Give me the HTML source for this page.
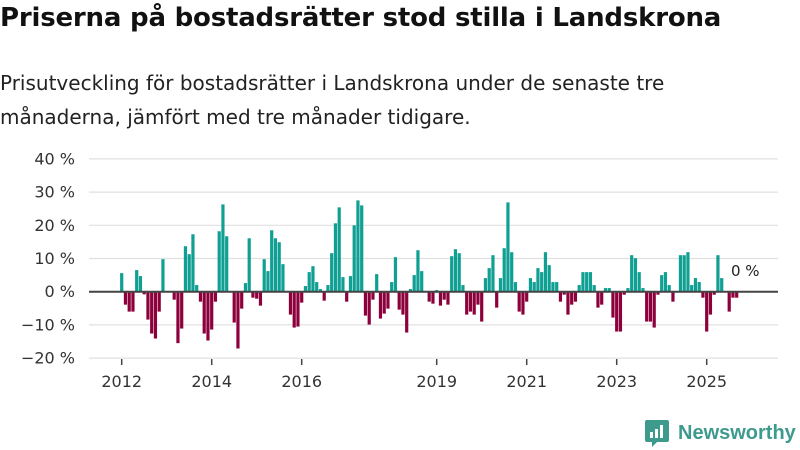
<!DOCTYPE html>
<html><head><meta charset="utf-8">
<style>
body{margin:0;width:800px;height:450px;background:#fff;font-family:"Liberation Sans","DejaVu Sans",sans-serif;overflow:hidden;position:relative}
#title{position:absolute;left:0;top:3px;font-size:26px;font-weight:bold;color:#111;font-family:"DejaVu Sans",sans-serif;letter-spacing:-0.2px}
#sub{position:absolute;left:0;top:66px;font-size:20px;line-height:34px;color:#222;font-family:"DejaVu Sans",sans-serif;width:790px}
svg{position:absolute;left:0;top:0}
</style></head><body>
<div id="title">Priserna på bostadsrätter stod stilla i Landskrona</div>
<div id="sub">Prisutveckling för bostadsrätter i Landskrona under de senaste tre månaderna, jämfört med tre månader tidigare.</div>
<svg id="chart" width="800" height="450"></svg>
<div style="position:absolute;left:645px;top:420px;height:26px;display:flex;align-items:center">
<svg width="24" height="27" viewBox="0 0 24 27" style="position:static"><path d="M2 0h20a2 2 0 0 1 2 2v18a2 2 0 0 1-2 2H12l-5 5v-5H2a2 2 0 0 1-2-2V2a2 2 0 0 1 2-2z" fill="#3f9a8e"/><rect x="5" y="12" width="3" height="6" fill="#fff"/><rect x="10" y="9" width="3" height="9" fill="#fff"/><rect x="15" y="5" width="3" height="13" fill="#fff"/></svg>
<span style="margin-left:9px;font-size:20px;font-weight:bold;color:#3f9a8e;font-family:'Liberation Sans',sans-serif">Newsworthy</span></div>
<script>
const yTicks=[40,30,20,10,0,-10,-20];
const xYears=[2012,2014,2016,2019,2021,2023,2025];
const startYear=2012;
const values=[5.6,-3.9,-6,-6,6.5,4.7,-0.8,-8.4,-12.6,-14.1,-6,9.8,
0,0,-2.4,-15.5,-11.1,13.7,11.3,17.3,2,-3,-12.6,-14.7,
-11.4,-3,18.2,26.3,16.7,0,-9.3,-17.1,-5.1,2.6,16.1,-1.8,
-2.1,-4.2,9.8,6.2,18.5,16.1,14.9,8.3,0,-6.9,-10.8,-10.5,
-3.3,1.7,5.9,7.7,2.9,0.8,-2.7,2,11.6,20.6,25.4,4.4,
-3,4.7,20,27.5,26,-7.2,-9.9,-2.4,5.3,-8.1,-6.6,-5.1,
2.9,10.4,-5.4,-6.9,-12.3,0.8,5,12.5,6.2,0,-3,-3.6,
0.5,-4.2,-2.4,-3.9,10.7,12.8,11.6,2,-6.9,-6,-6.9,-3.9,
-9,4.1,7.1,11,-4.8,4.1,13.1,26.9,11.9,2.9,-6,-6.9,
-3,4.1,2.9,7.1,5.9,11.9,8,2.9,2.9,-3,-0.9,-6.9,
-3.9,-3,2,5.9,5.9,5.9,2,-4.8,-3.9,1.1,1.1,-7.8,
-12,-12,-0.9,1.1,11,10.1,5.9,1.1,-9,-9,-10.8,-0.9,
5,5.9,2,-3,0,11,11,11.9,2,4.1,2.9,-1.8,
-12,-6.9,-0.9,11,4.1,0,-6,-1.8,-1.8];
const lastLabel="0 %";
const NS="http://www.w3.org/2000/svg";
const svg=document.getElementById('chart');
const y=v=>291.7-v*3.32;
const x=m=>121.7+m*3.75;
function mk(t,a){const e=document.createElementNS(NS,t);for(const k in a)e.setAttribute(k,a[k]);svg.appendChild(e);return e;}
yTicks.forEach(t=>{
  if(t!==0){const g=mk('line',{x1:89,x2:778,y1:y(t),y2:y(t),stroke:'#e0e0e0','stroke-width':1.2});
  
  }
  const l=mk('text',{x:75,y:y(t)+5.5,'text-anchor':'end','font-size':16,fill:'#333','font-family':'DejaVu Sans, sans-serif'});
  l.textContent=(t<0?'−'+(-t):t)+' %';
  
  
});
values.forEach((v,i)=>{
  const r=mk('rect',{x:x(i)-1.6,width:3.2,y:Math.min(y(v),y(0)),height:Math.abs(y(v)-y(0)),fill:v>=0?'#109f93':'#8c003b'});
  
  
});
const z=mk('line',{x1:89,x2:778,y1:y(0),y2:y(0),stroke:'#444','stroke-width':2});


xYears.forEach(yr=>{
  const px=x((yr-startYear)*12);
  const t=mk('line',{x1:px,x2:px,y1:359,y2:365,stroke:'#444','stroke-width':1.5});
  
  
  const l=mk('text',{x:px,y:387,'text-anchor':'middle','font-size':16,fill:'#333','font-family':'DejaVu Sans, sans-serif'});
  l.textContent=yr;
  
  
});
const lab=mk('text',{x:731,y:276,'font-size':15,fill:'#222','font-family':'DejaVu Sans, sans-serif'});
lab.textContent=lastLabel;


</script>
</body></html>
